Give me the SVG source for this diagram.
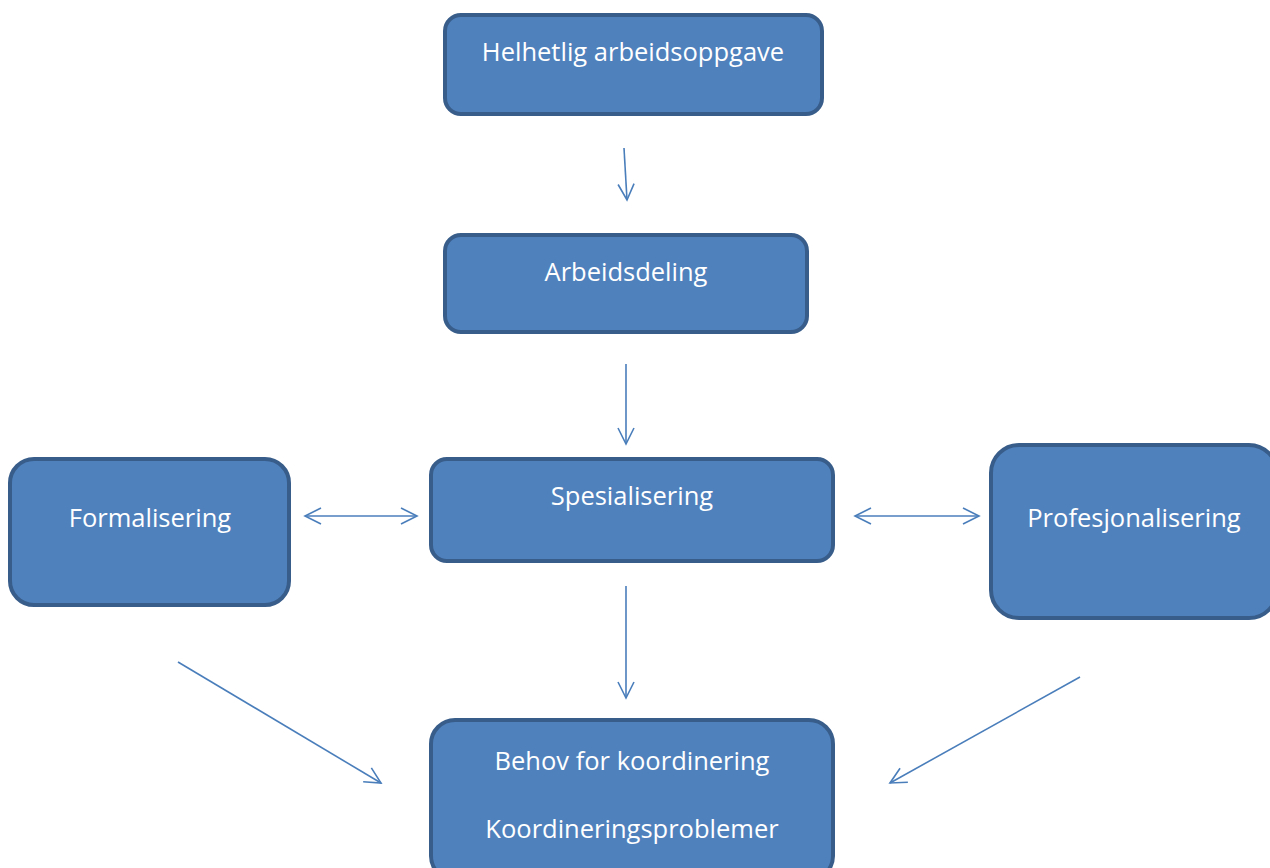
<svg xmlns="http://www.w3.org/2000/svg" width="1270" height="868" viewBox="0 0 1270 868">
<defs>
<style>
.box{fill:#4f81bd;stroke:#385d8a;stroke-width:4}
.lbl{font-family:"Open Sans","Noto Sans","Liberation Sans",sans-serif;font-size:25.5px;fill:#ffffff;text-anchor:middle}
.con{stroke:#4a7ebb;stroke-width:1.6;fill:none}
</style>
<marker id="ah" viewBox="0 0 20 20" refX="18" refY="10" markerWidth="20" markerHeight="20" markerUnits="userSpaceOnUse" orient="auto-start-reverse">
<path d="M2,2 L18,10 L2,18" fill="none" stroke="#4a7ebb" stroke-width="1.6"/>
</marker>
</defs>
<rect width="1270" height="868" fill="#ffffff"/>
<g id="connectors">
<line class="con" x1="624" y1="148" x2="627" y2="200" marker-end="url(#ah)"/>
<line class="con" x1="626" y1="364" x2="626" y2="444" marker-end="url(#ah)"/>
<line class="con" x1="305" y1="516" x2="417" y2="516" marker-start="url(#ah)" marker-end="url(#ah)"/>
<line class="con" x1="855" y1="516" x2="979" y2="516" marker-start="url(#ah)" marker-end="url(#ah)"/>
<line class="con" x1="626" y1="586" x2="626" y2="698" marker-end="url(#ah)"/>
<line class="con" x1="178" y1="662" x2="381" y2="783" marker-end="url(#ah)"/>
<line class="con" x1="1080" y1="677" x2="890" y2="783" marker-end="url(#ah)"/>
</g>
<g id="helhetlig">
<rect class="box" x="445" y="15" width="377" height="99" rx="16"/>
<text class="lbl" x="633" y="61">Helhetlig arbeidsoppgave</text>
</g>
<g id="arbeidsdeling">
<rect class="box" x="445" y="235" width="362" height="97" rx="16"/>
<text class="lbl" x="626" y="281">Arbeidsdeling</text>
</g>
<g id="spesialisering">
<rect class="box" x="431" y="459" width="402" height="102" rx="16"/>
<text class="lbl" x="632" y="505">Spesialisering</text>
</g>
<g id="formalisering">
<rect class="box" x="10" y="459" width="279" height="146" rx="24"/>
<text class="lbl" x="150" y="527">Formalisering</text>
</g>
<g id="profesjonalisering">
<rect class="box" x="991" y="445" width="286" height="173" rx="28"/>
<text class="lbl" x="1134" y="527">Profesjonalisering</text>
</g>
<g id="behov">
<rect class="box" x="431" y="720" width="402" height="160" rx="24"/>
<text class="lbl" x="632" y="770">Behov for koordinering</text>
<text class="lbl" x="632" y="838">Koordineringsproblemer</text>
</g>
</svg>
